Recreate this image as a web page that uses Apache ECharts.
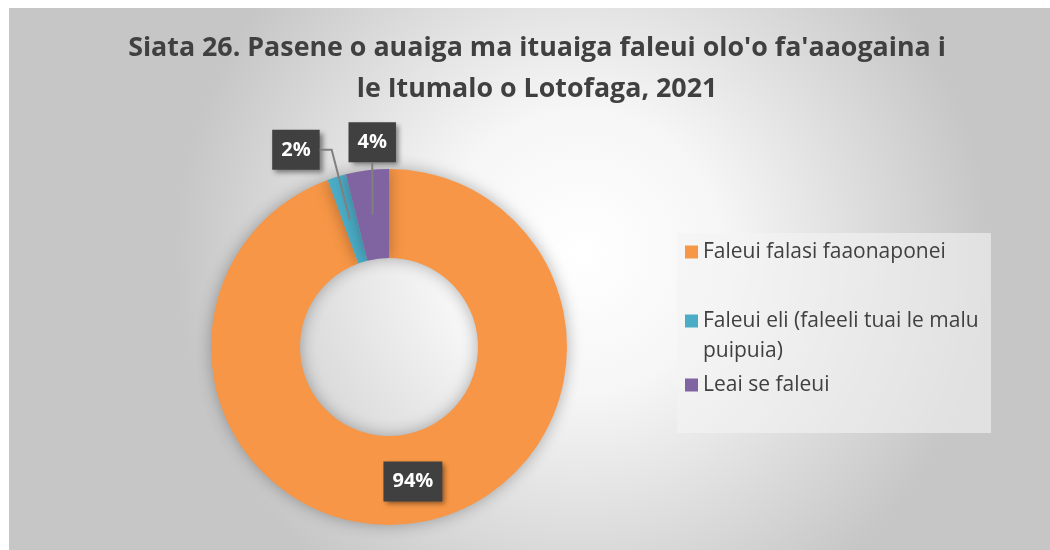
<!DOCTYPE html>
<html lang="sm">
<head>
    <meta charset="UTF-8">
    <title>Siata 26</title>
    <script src="https://cdn.jsdelivr.net/npm/echarts@6/dist/echarts.min.js"></script>
    <style>
        body { margin: 0; background: #fff; }
        #main { position: absolute; left: 9px; top: 8px; width: 1041px; height: 542px; }
    </style>
</head>
<body>
<div id="main"></div>
<script>
    // data
    var categories = ['Faleui falasi faaonaponei', 'Faleui eli (faleeli tuai le malu\npuipuia)', 'Leai se faleui'];
    var legendNames = ['Faleui falasi faaonaponei', 'Faleui eli (faleeli tuai le malu puipuia)', 'Leai se faleui'];
    var shares = [94.4, 1.7, 3.9];
    var colors = ['#F79646', '#4BACC6', '#8064A2'];

    var center = [380, 339];
    var innerR = 89, outerR = 178;
    var labelH = 40;   // lineHeight 24 + padding 8*2

    // outer edge point and mid-ring point at the middle angle of slice i
    function sliceGeom(i) {
        var total = 0, before = 0;
        for (var k = 0; k < shares.length; k++) {
            total += shares[k];
            if (k < i) before += shares[k];
        }
        var ang = (before + shares[i] / 2) / total * 2 * Math.PI; // clockwise from 12 o'clock
        var sx = Math.sin(ang), sy = -Math.cos(ang);
        var midR = (innerR + outerR) / 2;
        return {
            outer: [center[0] + outerR * sx, center[1] + outerR * sy],
            mid: [center[0] + midR * sx, center[1] + midR * sy]
        };
    }
    // where the outside labels sit, relative to their slice
    function labelAnchor(i) {
        var g = sliceGeom(i);
        if (i === 2) return { cx: g.outer[0] + 5, bottom: g.outer[1] - 8 };
        return { right: g.outer[0] - 17, cy: g.outer[1] - 47 + labelH / 2 };
    }

    var labelBox = {
        color: '#fff',
        fontFamily: 'Open Sans',
        fontWeight: 'bold',
        fontSize: 20,
        lineHeight: 24,
        backgroundColor: '#404040',
        padding: [8, 9],
        shadowColor: 'rgba(0,0,0,0.45)',
        shadowBlur: 5,
        shadowOffsetX: 3,
        shadowOffsetY: 3
    };

    var pieData = [];
    for (var i = 0; i < shares.length; i++) {
        pieData.push({
            name: legendNames[i],
            value: shares[i],
            itemStyle: { color: colors[i] },
            label: { position: i === 0 ? 'inside' : 'outside' },
            labelLine: { show: false }
        });
    }

    // leader lines from the small labels into the middle of their slices
    var g1 = sliceGeom(1), a1 = labelAnchor(1);
    var g2 = sliceGeom(2), a2 = labelAnchor(2);
    var leaderStyle = { stroke: '#808080', lineWidth: 2, fill: null };
    var leaders = [
        { type: 'polyline', z: 100, silent: true, style: leaderStyle,
          shape: { points: [[a1.right, a1.cy], [a1.right + 12, a1.cy], g1.mid] } },
        { type: 'polyline', z: 100, silent: true, style: leaderStyle,
          shape: { points: [[a2.cx, a2.bottom], g2.mid] } }
    ];

    var legendText = {
        fontFamily: 'Open Sans',
        fontSize: 21,
        lineHeight: 30,
        color: '#404040'
    };
    function legendFor(idx, top, opts) {
        var l = {
            orient: 'vertical',
            left: 676,
            top: top,
            padding: 0,
            itemWidth: 13,
            itemHeight: 13,
            icon: 'rect',
            data: [legendNames[idx]],
            formatter: function (name) {
                return categories[legendNames.indexOf(name)];
            },
            textStyle: legendText
        };
        return Object.assign(l, opts || {});
    }

    var myChart = echarts.init(document.getElementById('main'));
    var option = {
        backgroundColor: {
            type: 'radial', x: 0.55, y: 0.45, r: 0.75,
            colorStops: [
                { offset: 0, color: '#ffffff' },
                { offset: 0.35, color: '#f6f6f6' },
                { offset: 1, color: '#c6c6c6' }
            ]
        },
        title: {
            text: "Siata 26. Pasene o auaiga ma ituaiga faleui olo'o fa'aaogaina i\nle Itumalo o Lotofaga, 2021",
            left: 528,
            textAlign: 'center',
            top: 20,
            padding: 0,
            textStyle: {
                fontFamily: 'Open Sans',
                fontWeight: 'bold',
                fontSize: 26.8,
                lineHeight: 41,
                color: '#404040'
            }
        },
        graphic: [{
            type: 'rect',
            left: 668, top: 225,
            shape: { width: 314, height: 200 },
            style: { fill: 'rgba(244,244,244,0.6)' },
            z: -1
        }].concat(leaders),
        legend: [
            legendFor(0, 229),
            // tall transparent icon box keeps the square beside the first line
            legendFor(1, 298, {
                itemHeight: 43,
                icon: 'path://M0,0h13v13h-13zM0,43h0.01v0.01h-0.01z'
            }),
            legendFor(2, 362)
        ],
        series: [
            {
                type: 'pie',
                center: center,
                radius: [innerR, outerR],
                startAngle: 90,
                clockwise: true,
                avoidLabelOverlap: false,
                data: pieData,
                itemStyle: {
                    shadowBlur: 16,
                    shadowColor: 'rgba(0,0,0,0.3)'
                },
                label: Object.assign({
                    formatter: function (p) { return Math.round(p.percent) + '%'; }
                }, labelBox),
                labelLayout: function (p) {
                    if (p.dataIndex === 0) return {};
                    var w = p.labelRect.width, h = p.labelRect.height;
                    var a = labelAnchor(p.dataIndex);
                    if (p.dataIndex === 2) {
                        return { x: a.cx - w / 2, y: a.bottom - h, align: 'left', verticalAlign: 'top' };
                    }
                    return { x: a.right - w, y: a.cy - h / 2, align: 'left', verticalAlign: 'top' };
                }
            }
        ]
    };
    myChart.setOption(option);
</script>
</body>
</html>
